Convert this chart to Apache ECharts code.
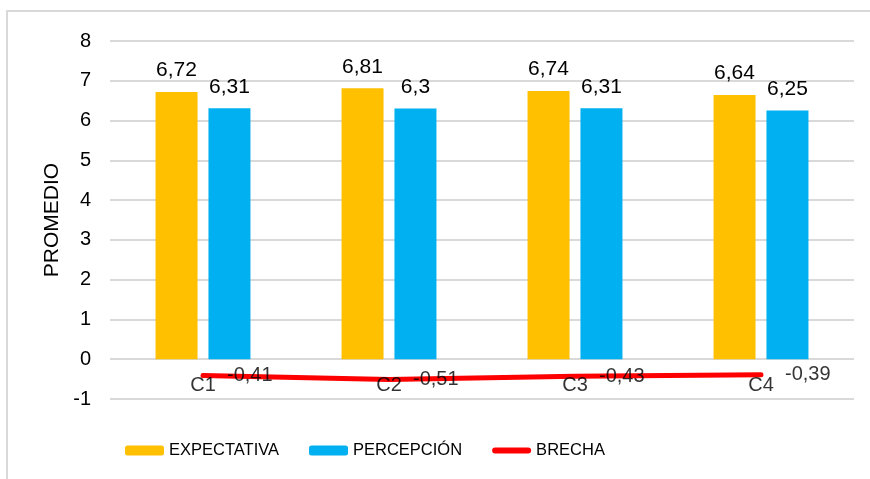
<!DOCTYPE html>
<html>
<head>
<meta charset="utf-8">
<script src="https://cdn.jsdelivr.net/npm/echarts@6/dist/echarts.min.js"></script>
<style>
  html, body { margin: 0; padding: 0; background: #fff; }
  #chart { width: 870px; height: 479px; }
</style>
</head>
<body>
<div id="chart"></div>
<script>
// Dimensions C1..C4: expected vs. perceived average score and the gap between them
const categories = ['C1', 'C2', 'C3', 'C4'];
const expectativa = [6.72, 6.81, 6.74, 6.64];
const percepcion = [6.31, 6.30, 6.31, 6.25];
const brecha = [-0.41, -0.51, -0.43, -0.39];
const yTicks = [-1, 0, 1, 2, 3, 4, 5, 6, 7, 8];

const FONT = "'Liberation Sans', Arial, sans-serif";
const comma = v => String(v).replace('.', ',');

const chart = echarts.init(document.getElementById('chart'), null, { renderer: 'canvas' });

chart.setOption({
  backgroundColor: '#ffffff',
  animation: false,
  textStyle: { fontFamily: FONT, color: '#000' },
  graphic: [{
    type: 'rect',
    shape: { x: 7, y: 11, width: 900, height: 500 },
    style: { fill: 'none', stroke: '#d9d9d9', lineWidth: 2 },
    z: -10
  }],
  grid: { left: 110, right: 16, top: 41, bottom: 80 },
  legend: {
    left: 120,
    top: 437,
    itemWidth: 39,
    itemHeight: 10,
    itemGap: 30,
    symbolKeepAspect: true,
    textStyle: { fontFamily: FONT, fontSize: 16.5, color: '#000' },
    data: [
      'EXPECTATIVA',
      'PERCEPCIÓN',
      {
        name: 'BRECHA',
        icon: 'path://M3,0 L36,0 A3,3 0 0 1 36,6 L3,6 A3,3 0 0 1 3,0 Z',
        itemStyle: { color: '#FF0000' }
      }
    ]
  },
  xAxis: {
    type: 'category',
    data: categories,
    axisLine: { show: false },
    axisTick: { show: false },
    axisLabel: { show: false },
    splitLine: { show: false }
  },
  yAxis: {
    type: 'value',
    min: yTicks[0],
    max: yTicks[yTicks.length - 1],
    interval: 1,
    name: 'PROMEDIO',
    nameLocation: 'middle',
    nameGap: 46,
    nameTextStyle: { fontFamily: FONT, fontSize: 21, color: '#000' },
    axisLine: { show: false },
    axisTick: { show: false },
    axisLabel: { fontFamily: FONT, fontSize: 20, color: '#000', margin: 19 },
    splitLine: { lineStyle: { color: '#d9d9d9', width: 2 } }
  },
  series: [
    {
      name: 'EXPECTATIVA',
      type: 'bar',
      data: expectativa,
      barWidth: 42,
      barGap: '26%',
      itemStyle: { color: '#FFC000' },
      label: {
        show: true, position: 'top', distance: 11,
        fontFamily: FONT, fontSize: 21, color: '#000',
        formatter: p => comma(p.value)
      }
    },
    {
      name: 'PERCEPCIÓN',
      type: 'bar',
      data: percepcion,
      barWidth: 42,
      itemStyle: { color: '#00B0F0' },
      label: {
        show: true, position: 'top', distance: 11,
        fontFamily: FONT, fontSize: 21, color: '#000',
        formatter: p => comma(p.value)
      }
    },
    {
      name: 'BRECHA',
      type: 'line',
      data: brecha,
      symbol: 'none',
      z: 5,
      lineStyle: { color: '#FF0000', width: 5, cap: 'round' },
      itemStyle: { color: '#FF0000' }
    },
    {
      // category names sitting just under the zero line
      name: 'categorias',
      type: 'scatter',
      data: categories.map(() => 0),
      symbolSize: 0,
      z: 6,
      silent: true,
      label: {
        show: true, position: 'bottom', distance: 16,
        fontFamily: FONT, fontSize: 20, color: '#000',
        formatter: p => categories[p.dataIndex]
      }
    },
    {
      // value labels for the gap line, anchored on the same points
      name: 'BRECHA-valores',
      type: 'scatter',
      data: brecha,
      symbolSize: 0,
      z: 7,
      silent: true,
      label: {
        show: true, position: 'right', distance: 24,
        fontFamily: FONT, fontSize: 20, color: '#000',
        formatter: p => comma(p.value)
      }
    }
  ]
});
</script>
</body>
</html>
